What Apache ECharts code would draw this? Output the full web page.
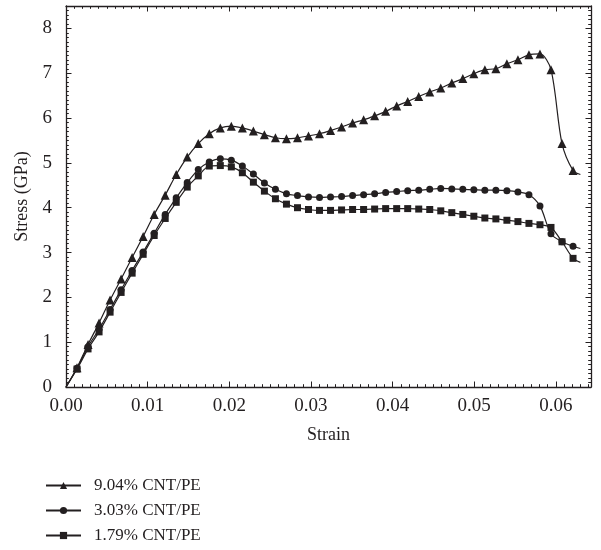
<!DOCTYPE html>
<html>
<head>
<meta charset="utf-8">
<script src="https://cdn.jsdelivr.net/npm/echarts@6/dist/echarts.min.js"></script>
<style>html,body{margin:0;padding:0;background:#fff}#c{width:601px;height:550px}</style>
</head>
<body>
<div id="c"></div>
<script>
// Strain values (shared by all three series); last entry is the curve's end (no marker)
var strain = [0, 0.00135, 0.0027, 0.00405, 0.0054, 0.00675, 0.0081, 0.00945, 0.0108, 0.01215,
  0.0135, 0.01485, 0.0162, 0.01755, 0.0189, 0.02025, 0.0216, 0.02295, 0.0243, 0.02565,
  0.027, 0.02835, 0.0297, 0.03105, 0.0324, 0.03375, 0.0351, 0.03645, 0.0378, 0.03915,
  0.0405, 0.04185, 0.0432, 0.04455, 0.0459, 0.04725, 0.0486, 0.04995, 0.0513, 0.05265,
  0.054, 0.05535, 0.0567, 0.05805, 0.0594, 0.06075, 0.0621, 0.0630];

var stress904 = [0, 0.43, 0.95, 1.43, 1.94, 2.41, 2.89, 3.36, 3.85, 4.28,
  4.74, 5.13, 5.43, 5.65, 5.78, 5.82, 5.78, 5.71, 5.63, 5.56,
  5.54, 5.56, 5.60, 5.65, 5.72, 5.80, 5.89, 5.96, 6.05, 6.15,
  6.27, 6.37, 6.48, 6.58, 6.67, 6.78, 6.88, 6.99, 7.08, 7.10,
  7.21, 7.30, 7.41, 7.43, 7.08, 5.43, 4.83, 4.74];

var stress303 = [0, 0.42, 0.90, 1.29, 1.73, 2.17, 2.60, 3.01, 3.43, 3.85,
  4.22, 4.56, 4.85, 5.02, 5.09, 5.06, 4.93, 4.75, 4.55, 4.41,
  4.31, 4.27, 4.24, 4.23, 4.24, 4.25, 4.27, 4.29, 4.31, 4.34,
  4.36, 4.38, 4.39, 4.41, 4.43, 4.42, 4.41, 4.40, 4.39, 4.39,
  4.38, 4.35, 4.29, 4.04, 3.42, 3.24, 3.14, 3.09];

var stress179 = [0, 0.40, 0.85, 1.23, 1.67, 2.11, 2.54, 2.96, 3.38, 3.76,
  4.12, 4.46, 4.71, 4.93, 4.94, 4.91, 4.78, 4.57, 4.37, 4.20,
  4.08, 4.00, 3.96, 3.94, 3.94, 3.95, 3.96, 3.96, 3.97, 3.98,
  3.98, 3.98, 3.97, 3.96, 3.93, 3.89, 3.85, 3.81, 3.77, 3.75,
  3.72, 3.69, 3.65, 3.62, 3.56, 3.24, 2.87, 2.78];

var seriesNames = ['9.04% CNT/PE', '3.03% CNT/PE', '1.79% CNT/PE'];
var xLabels = ['0.00', '0.01', '0.02', '0.03', '0.04', '0.05', '0.06'];
var yLabels = ['0', '1', '2', '3', '4', '5', '6', '7', '8'];

var INK = '#231f20';
var FONT = 'Liberation Serif';

function pairs(ys) {
  return ys.map(function (y, i) {
    var item = { value: [strain[i], y] };
    if (i === 0 || i === ys.length - 1) item.symbol = 'none';
    return item;
  });
}

var XMAX = 0.0643, YMAX = 8.5;

function xAx(pos, major, labels) {
  return {
    type: 'value', position: pos, min: 0, max: XMAX,
    interval: major ? 0.01 : 0.001,
    axisLine: { show: major, onZero: false, lineStyle: { color: INK, width: 1.3 } },
    axisTick: { show: true, inside: true, length: major ? 5.5 : 2.8, lineStyle: { color: INK, width: 1 } },
    axisLabel: labels ? {
      show: true, color: INK, fontFamily: FONT, fontSize: 19, margin: 10, showMaxLabel: false,
      formatter: function (v) { var k = Math.round(v * 100); return xLabels[k] !== undefined && Math.abs(v * 100 - k) < 1e-6 ? xLabels[k] : ''; }
    } : { show: false },
    splitLine: { show: false },
    name: labels ? 'Strain' : '', nameLocation: 'middle', nameGap: 39,
    nameTextStyle: { color: INK, fontFamily: FONT, fontSize: 18 }
  };
}
function yAx(pos, major, labels) {
  return {
    type: 'value', position: pos, min: 0, max: YMAX,
    interval: major ? 1 : 0.1,
    axisLine: { show: major, onZero: false, lineStyle: { color: INK, width: 1.3 } },
    axisTick: { show: true, inside: true, length: major ? 5.5 : 2.8, lineStyle: { color: INK, width: 1 } },
    axisLabel: labels ? {
      show: true, color: INK, fontFamily: FONT, fontSize: 19, margin: 14, showMaxLabel: false,
      formatter: function (v) { var k = Math.round(v); return yLabels[k] !== undefined && Math.abs(v - k) < 1e-6 ? yLabels[k] : ''; }
    } : { show: false },
    splitLine: { show: false },
    name: labels ? 'Stress (GPa)' : '', nameLocation: 'middle', nameGap: 35, nameRotate: 90,
    nameTextStyle: { color: INK, fontFamily: FONT, fontSize: 18 }
  };
}

function ser(name, data, sym, size) {
  return {
    name: name, type: 'line', xAxisIndex: 0, yAxisIndex: 0,
    data: pairs(data), smooth: 0.3,
    symbol: sym, symbolSize: size, showSymbol: true,
    lineStyle: { color: INK, width: 1.2 },
    itemStyle: { color: INK, borderWidth: 0 },
    emphasis: { disabled: true }, animation: false, z: 3
  };
}

var chart = echarts.init(document.getElementById('c'), null, { renderer: 'canvas' });
chart.setOption({
  backgroundColor: '#fff',
  animation: false,
  grid: { left: 66, right: 10, top: 6, bottom: 163, containLabel: false },
  xAxis: [xAx('bottom', true, true), xAx('bottom', false, false), xAx('top', true, false), xAx('top', false, false)],
  yAxis: [yAx('left', true, true), yAx('left', false, false), yAx('right', true, false), yAx('right', false, false)],
  legend: {
    orient: 'vertical', left: 45, top: 477, height: 73, padding: 0,
    itemWidth: 35, itemHeight: 9, itemGap: 8,
    textStyle: { color: INK, fontFamily: FONT, fontSize: 17, padding: [0, 0, 0, 8] },
    data: seriesNames
  },
  series: [
    ser(seriesNames[0], stress904, 'triangle', 9),
    ser(seriesNames[1], stress303, 'circle', 7),
    ser(seriesNames[2], stress179, 'rect', 7)
  ]
});
</script>
</body>
</html>
